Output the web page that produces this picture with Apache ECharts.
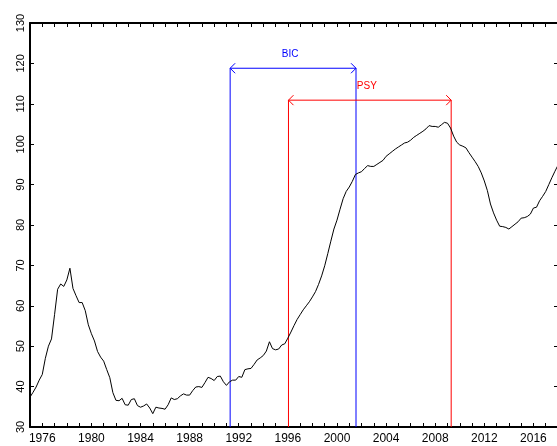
<!DOCTYPE html>
<html>
<head>
<meta charset="utf-8">
<script src="https://cdn.jsdelivr.net/npm/echarts@6/dist/echarts.min.js"></script>
<style>
html,body{margin:0;padding:0;background:#fff;}
#chart{width:557px;height:446px;}
</style>
</head>
<body>
<div id="chart"></div>
<script>
// ---- data ----
const startYear = 1975;          // first quarter of the series
const values = [
  37.4, 38.6, 39.9, 41.6,
  43.0, 47.0, 50.0, 51.8,
  57.8, 64.1, 65.4, 64.8,
  66.4, 69.3, 64.3, 62.5,
  60.8, 60.8, 58.8, 55.3,
  53.1, 51.3, 48.7, 47.3,
  46.3, 44.2, 42.2, 38.5,
  36.6, 36.5, 37.1, 35.5,
  35.4, 36.8, 37.0, 35.3,
  34.9, 35.2, 35.7, 34.7,
  33.3, 34.9, 34.7, 34.6,
  34.4, 35.5, 37.2, 36.8,
  37.0, 37.7, 38.2, 37.9,
  37.9, 39.0, 39.9, 40.0,
  39.8, 41.0, 42.3, 42.0,
  41.5, 42.5, 42.6, 41.2,
  40.3, 41.2, 41.6, 41.6,
  42.5, 42.3, 44.2, 44.4,
  44.5, 45.5, 46.6, 47.1,
  47.7, 48.8, 51.1, 49.4,
  49.1, 49.3, 50.3, 50.6,
  52.0, 53.5, 55.1, 56.6,
  57.8, 59.0, 60.0, 61.0,
  62.2, 63.5, 65.3, 67.4,
  69.9, 72.9, 76.0, 79.0,
  81.2, 83.9, 86.5, 88.3,
  89.4, 90.8, 92.5, 92.9,
  93.2, 94.0, 94.7, 94.5,
  94.5, 95.0, 95.5, 96.0,
  97.0, 97.6, 98.2, 98.8,
  99.3, 99.8, 100.3, 100.5,
  101.0, 101.7, 102.2, 102.7,
  103.2, 103.8, 104.6, 104.4,
  104.4, 104.2, 104.8, 105.4,
  105.2, 104.0, 102.0, 100.5,
  99.8, 99.5, 99.1, 97.9,
  96.8, 95.7, 94.5, 92.9,
  90.9, 88.5, 85.2, 83.0,
  81.2, 79.7, 79.6, 79.4,
  79.0, 79.6, 80.2, 80.8,
  81.7, 81.8, 82.1, 82.7,
  84.2, 84.4, 86.0, 87.1,
  88.3, 90.0, 91.7, 93.3,
  94.8
];
const xTickLabels = [1976, 1980, 1984, 1988, 1992, 1996, 2000, 2004, 2008, 2012, 2016];
const yTickLabels = [30, 40, 50, 60, 70, 80, 90, 100, 110, 120, 130];

const intervalNames = ['BIC', 'PSY'];
const intervalStart = [1991.3, 1996.05];
const intervalEnd   = [2001.55, 2009.3];
const intervalLevel = [118.8, 110.9];

// ---- styles ----
const intervalColors = ['#0000ff', '#ff0000'];
const FONT = '"Liberation Sans", Arial, Helvetica, sans-serif';

const seriesData = values.map((v, i) => [startYear + i / 4, v]);
const intervalData = intervalNames.map((n, i) => [intervalStart[i], intervalEnd[i], intervalLevel[i]]);

const chart = echarts.init(document.getElementById('chart'), null, {renderer: 'canvas'});

const axisLine = {show: true, lineStyle: {color: '#000', width: 2}};
const axisTick = {show: true, inside: true, length: 4, lineStyle: {color: '#000', width: 1}};

chart.setOption({
  animation: false,
  backgroundColor: '#fff',
  grid: {left: 30, right: -1, top: 23, bottom: 19, containLabel: false, outerBoundsMode: 'none'},
  xAxis: [
    {
      type: 'value', position: 'bottom', min: 1975, max: 2018, interval: 1,
      axisLine: axisLine, axisTick: axisTick, splitLine: {show: false},
      axisLabel: {
        show: true, margin: 6, color: '#000', fontSize: 12, fontFamily: FONT,
        showMinLabel: true, showMaxLabel: true,
        formatter: v => xTickLabels.includes(Math.round(v)) ? String(Math.round(v)) : ''
      }
    },
    {
      type: 'value', position: 'top', min: 1975, max: 2018, interval: 1,
      axisLine: axisLine, axisTick: axisTick, splitLine: {show: false},
      axisLabel: {show: false}
    }
  ],
  yAxis: [
    {
      type: 'value', position: 'left', min: yTickLabels[0], max: yTickLabels[yTickLabels.length - 1], interval: 10,
      axisLine: axisLine, axisTick: axisTick, splitLine: {show: false},
      axisLabel: {
        show: true, rotate: 90, margin: 4, color: '#000', fontSize: 11, fontFamily: FONT,
        formatter: v => yTickLabels.includes(v) ? String(v) : ''
      }
    },
    {
      type: 'value', position: 'right', min: yTickLabels[0], max: yTickLabels[yTickLabels.length - 1], interval: 10,
      axisLine: axisLine, axisTick: axisTick, splitLine: {show: false},
      axisLabel: {show: false}
    }
  ],
  series: [
    {
      type: 'line', data: seriesData, xAxisIndex: 0, yAxisIndex: 0,
      showSymbol: false, symbol: 'none', smooth: false,
      lineStyle: {color: '#000', width: 1}, silent: true, z: 3
    },
    {
      type: 'custom', coordinateSystem: 'cartesian2d', xAxisIndex: 0, yAxisIndex: 0,
      data: intervalData, encode: {x: [0, 1], y: 2}, clip: false, silent: true, z: 2,
      renderItem: function (params, api) {
        const i = params.dataIndex;
        const color = intervalColors[i];
        const s = api.value(0), e = api.value(1), lv = api.value(2);
        const pS = api.coord([s, lv]);
        const pE = api.coord([e, lv]);
        const base = api.coord([s, yTickLabels[0]]);
        const ls = {stroke: color, lineWidth: 1, fill: null};
        return {
          type: 'group',
          children: [
            {type: 'line', shape: {x1: pS[0], y1: pS[1], x2: pS[0], y2: base[1]}, style: ls},
            {type: 'line', shape: {x1: pE[0], y1: pE[1], x2: pE[0], y2: base[1]}, style: ls},
            {type: 'line', shape: {x1: pS[0], y1: pS[1], x2: pE[0], y2: pE[1]}, style: ls},
            {type: 'polyline', shape: {points: [[pS[0] + 5, pS[1] - 5], [pS[0], pS[1]], [pS[0] + 5, pS[1] + 5]]}, style: ls},
            {type: 'polyline', shape: {points: [[pE[0] - 5, pE[1] - 5], [pE[0], pE[1]], [pE[0] - 5, pE[1] + 5]]}, style: ls},
            {type: 'text', x: (pS[0] + pE[0]) / 2 - 3, y: pS[1] - 9,
             style: {text: intervalNames[i], fill: color, fontSize: 10, fontFamily: FONT,
                     align: 'center', verticalAlign: 'bottom'}}
          ]
        };
      }
    }
  ]
});
</script>
</body>
</html>
